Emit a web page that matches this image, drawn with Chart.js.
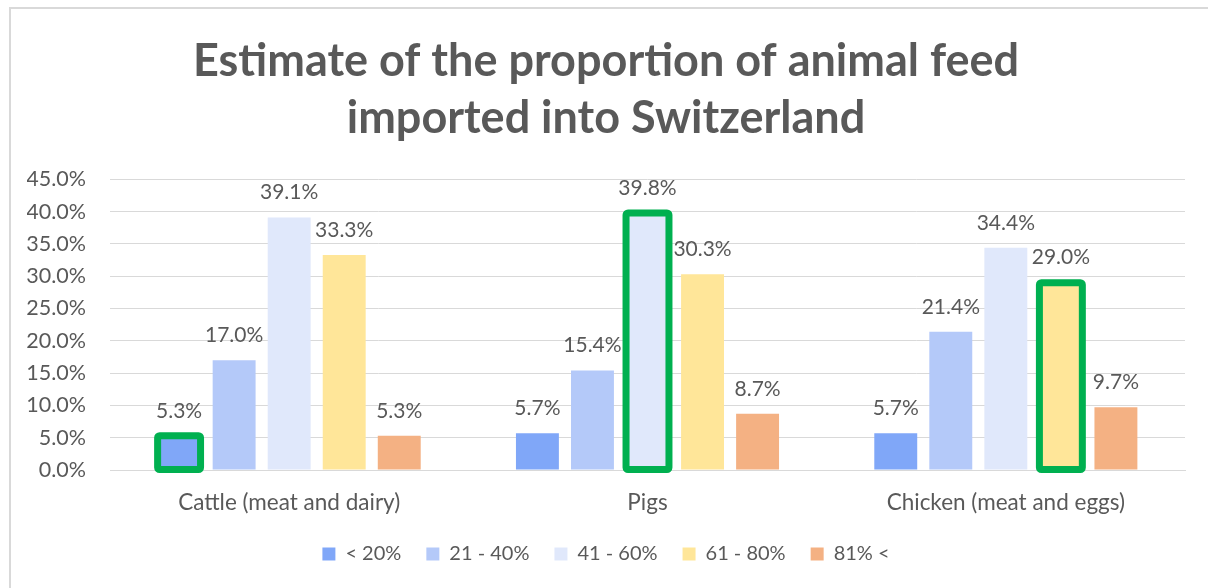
<!DOCTYPE html>
<html>
<head>
<meta charset="utf-8">
<script src="https://cdn.jsdelivr.net/npm/chart.js@4"></script>
<style>
  html, body { margin: 0; padding: 0; background: #fff; overflow: hidden; }
  .frame {
    position: absolute; left: 9px; top: 7px;
    border-left: 2px solid #d9d9d9; border-top: 2px solid #d9d9d9;
    width: 1200px; height: 580px;
  }
</style>
</head>
<body>
<div class="frame">
  <canvas id="feedChart" width="1200" height="580"></canvas>
</div>
<script>
const categories = ["Cattle (meat and dairy)", "Pigs", "Chicken (meat and eggs)"];
const seriesNames = ["< 20%", "21 - 40%", "41 - 60%", "61 - 80%", "81% <"];
const under20 = [5.3, 5.7, 5.7];
const from21to40 = [17.0, 15.4, 21.4];
const from41to60 = [39.1, 39.8, 34.4];
const from61to80 = [33.3, 30.3, 29.0];
const over81 = [5.3, 8.7, 9.7];
// [series index, category index] of the bars framed in green
const highlighted = [[0, 0], [2, 1], [3, 2]];

const colors = ["#80a7f8", "#b4c9f9", "#e0e8fb", "#ffe699", "#f4b183"];
const textGray = "#595959";

const valueLabels = {
  id: "valueLabels",
  afterDatasetsDraw(chart) {
    const ctx = chart.ctx;
    ctx.save();
    ctx.font = "21px Lato";
    ctx.fillStyle = textGray;
    ctx.textAlign = "center";
    ctx.textBaseline = "middle";
    chart.data.datasets.forEach((ds, i) => {
      chart.getDatasetMeta(i).data.forEach((bar, j) => {
        ctx.fillText(ds.data[j].toFixed(1) + "%", bar.x, bar.y - 25);
      });
    });
    ctx.restore();
  }
};

const greenFrames = {
  id: "greenFrames",
  afterDatasetsDraw(chart) {
    const ctx = chart.ctx;
    ctx.save();
    ctx.strokeStyle = "#00b050";
    ctx.lineWidth = 7;
    ctx.lineJoin = "round";
    highlighted.forEach(([s, c]) => {
      const bar = chart.getDatasetMeta(s).data[c];
      const w = bar.width;
      ctx.beginPath();
      ctx.roundRect(bar.x - w / 2, bar.y, w, bar.base - bar.y, 2);
      ctx.stroke();
    });
    ctx.restore();
  }
};

const seriesData = [under20, from21to40, from41to60, from61to80, over81];

new Chart(document.getElementById("feedChart"), {
  type: "bar",
  data: {
    labels: categories,
    datasets: seriesNames.map((name, i) => ({
      label: name,
      data: seriesData[i],
      backgroundColor: colors[i],
      categoryPercentage: 0.768,
      barPercentage: 0.78
    }))
  },
  options: {
    responsive: false,
    animation: false,
    layout: { autoPadding: false, padding: { left: 16, right: 26, top: 0, bottom: 15 } },
    plugins: {
      title: {
        display: true,
        text: ["Estimate of the proportion of animal feed", "imported into Switzerland"],
        color: textGray,
        font: { family: "Lato", size: 45, weight: "bold", lineHeight: 1.27 },
        padding: { top: 24, bottom: 32 }
      },
      legend: {
        position: "bottom",
        labels: {
          color: textGray,
          font: { family: "Lato", size: 20 },
          boxWidth: 13,
          boxHeight: 13,
          padding: 25
        }
      },
      tooltip: { enabled: false }
    },
    scales: {
      x: {
        grid: { display: false },
        border: { color: "#d9d9d9" },
        ticks: { color: textGray, font: { family: "Lato", size: 22.5 }, padding: 11 },
        afterFit(scale) {
          scale.height -= 8;
        }
      },
      y: {
        min: 0,
        max: 45,
        grid: { color: "#d9d9d9", drawTicks: false },
        border: { display: false },
        ticks: {
          stepSize: 5,
          padding: 24,
          color: textGray,
          font: { family: "Lato", size: 21.5 },
          callback: v => v.toFixed(1) + "%"
        },
        afterFit(scale) {
          scale.width = 83;
        }
      }
    }
  },
  plugins: [valueLabels, greenFrames]
});
</script>
</body>
</html>
